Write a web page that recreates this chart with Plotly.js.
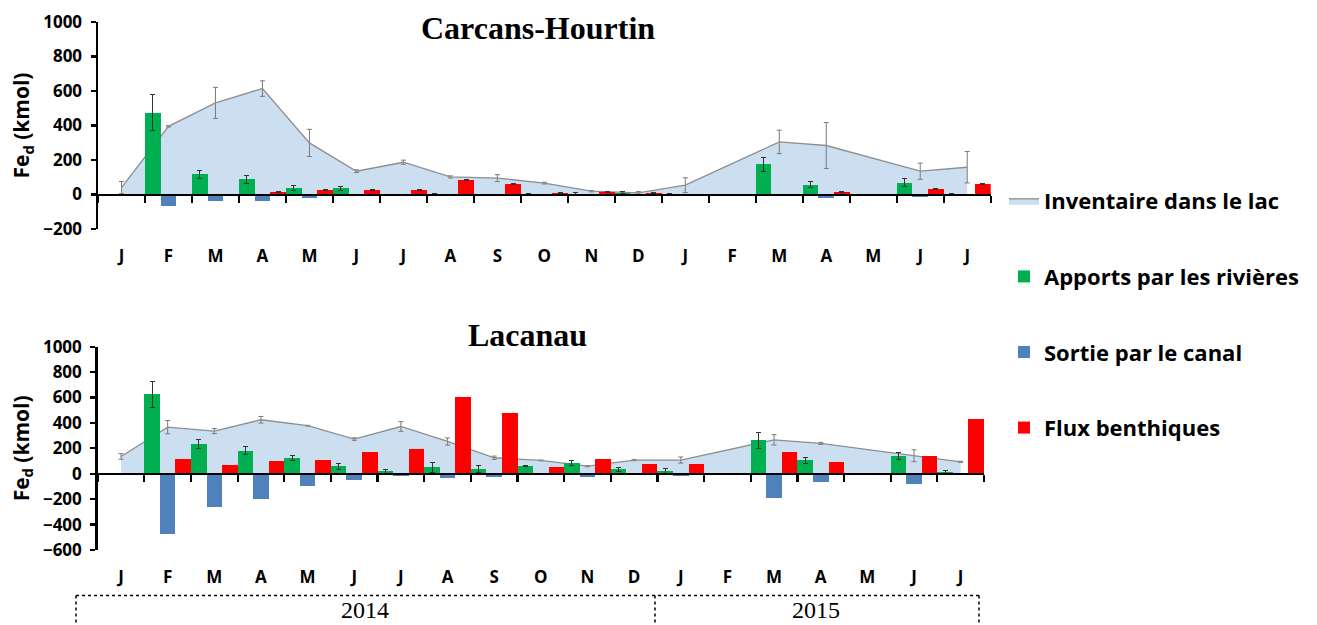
<!DOCTYPE html>
<html>
<head>
<meta charset="utf-8">
<script src="https://cdn.plot.ly/plotly-3.0.1.min.js"></script>
<style>
  html, body { margin: 0; padding: 0; background: #ffffff; }
  #chart { width: 1317px; height: 625px; }
</style>
</head>
<body>
<div id="chart"></div>
<script>
// ---------- data ----------
const months = ['J','F','M','A','M','J','J','A','S','O','N','D','J','F','M','A','M','J','J'];
const years = ['2014', '2015'];
const seriesNames = ['Inventaire dans le lac', 'Apports par les rivières', 'Sortie par le canal', 'Flux benthiques'];
const panelTitles = ['Carcans-Hourtin', 'Lacanau'];

// Carcans-Hourtin
const invC      = [40, 395, 531, 614, 299, 135, 187, 102, 95, 66, 19, 10, 54, null, 305, 284, null, 135, 158];
const invCErr   = [35, 4, 90, 45, 79, 8, 12, 6, 20, 5, 4, 7, 43, null, 68, 133, null, 47, 91];
const greenC    = [null, 475, 116, 87, 40, 35, null, 1, null, 1, 4, 10, 3, null, 174, 56, null, 69, 3];
const greenCErr = [null, 104, 26, 22, 15, 12, null, 3, null, 3, 5, 5, 4, null, 41, 17, null, 23, 4];
const blueC     = [null, -65, -39, -39, -19, null, null, null, null, null, null, null, null, null, null, -19, null, -13, null];
const redC      = [null, null, null, 15, 25, 27, 25, 83, 62, 10, 13, 10, null, null, null, 15, null, 31, 62];
const redCErr   = [null, null, null, 2, 2, 2, 2, 3, 3, 3, 3, 3, null, null, null, 2, null, 2, 2];

// Lacanau
const invL      = [136, 367, 336, 425, 378, 273, 372, 254, 126, 105, 60, 108, 108, null, 267, 239, null, 142, 94];
const invLErr   = [22, 52, 20, 26, 3, 10, 38, 28, 13, 3, 5, 5, 24, null, 41, 8, null, 47, 5];
const greenL    = [null, 624, 233, 181, 126, 58, 18, 50, 39, 63, 84, 34, 21, null, 262, 105, null, 139, 13];
const greenLErr = [null, 100, 36, 30, 20, 22, 15, 37, 30, 5, 21, 13, 17, null, 63, 25, null, 26, 13];
const blueL     = [null, -472, -262, -202, -100, -52, -15, -37, -26, -10, -26, null, -21, null, -189, -63, null, -79, null];
const redL      = [null, 118, 68, 100, 110, 170, 197, 608, 477, 50, 118, 76, 76, null, 173, 94, null, 136, 428];

// ---------- helpers ----------
const idx = months.map((m, i) => i);
const bounds = idx.map(i => i - 0.5).concat([months.length - 0.5]);
const W = 1317, H = 625;
const px = v => v / W;
const py = v => 1 - v / H;

const FONT = '"Open Sans", Lato, sans-serif';
const SERIF = '"Liberation Serif", "Times New Roman", serif';
const cols = { area: '#CCDFF1', areaLine: '#8E8E8E', green: '#00B050', blue: '#4F81BD', red: '#FF0000' };

function panelTraces(inv, invErr, green, greenErr, blue, red, redErr, xa, ya, xb, yb, legend) {
  const errBar = arr => arr ? { type: 'data', array: arr, visible: true, color: '#333333', thickness: 1, width: 2.5 } : undefined;
  return [
    { type: 'scatter', mode: 'lines', x: idx, y: inv, xaxis: xa, yaxis: ya,
      fill: 'tozeroy', fillcolor: cols.area, connectgaps: true,
      line: { color: cols.areaLine, width: 1.3 },
      error_y: { type: 'data', array: invErr, visible: true, color: '#7A7A7A', thickness: 1, width: 2.5 },
      name: seriesNames[0], legendgroup: 'a', showlegend: legend, hoverinfo: 'y' },
    { type: 'bar', x: idx, y: green, xaxis: xb, yaxis: yb, marker: { color: cols.green },
      error_y: errBar(greenErr), name: seriesNames[1], legendgroup: 'b', showlegend: legend },
    { type: 'bar', x: idx, y: blue, xaxis: xb, yaxis: yb, marker: { color: cols.blue },
      name: seriesNames[2], legendgroup: 'c', showlegend: legend },
    { type: 'bar', x: idx, y: red, xaxis: xb, yaxis: yb, marker: { color: cols.red },
      error_y: errBar(redErr), name: seriesNames[3], legendgroup: 'd', showlegend: legend }
  ];
}

const data = []
  .concat(panelTraces(invC, invCErr, greenC, greenCErr, blueC, redC, redCErr, 'x', 'y', 'x3', 'y3', true))
  .concat(panelTraces(invL, invLErr, greenL, greenLErr, blueL, redL, null, 'x2', 'y2', 'x4', 'y4', false));

// geometry (pixels of the reference)
const pTop = { y0: 22, y1: 229, x0: 98, x1: 990.7, r: [-200, 1000] };
const pBot = { y0: 346.7, y1: 550, x0: 97.7, x1: 984, r: [-600, 1000] };
const zeroPos = p => py(p.y1 - (0 - p.r[0]) / (p.r[1] - p.r[0]) * (p.y1 - p.y0));

const tickFont = { family: FONT, size: 17, color: '#000', weight: 'bold' };

function labelAxis(p, anchor) {
  return { domain: [px(p.x0), px(p.x1)], range: [-0.5, months.length - 0.5], anchor: anchor,
    tickmode: 'array', tickvals: idx, ticktext: months, ticks: '', showline: false,
    showgrid: false, zeroline: false, tickfont: tickFont, ticklabelstandoff: 15, fixedrange: true };
}
function tickAxis(p, over) {
  return { domain: [px(p.x0), px(p.x1)], range: [-0.5, months.length - 0.5], overlaying: over,
    anchor: 'free', position: zeroPos(p), tickmode: 'array', tickvals: bounds, ticks: 'outside',
    ticklen: 7, tickwidth: 2.2, tickcolor: '#000', showticklabels: false, showline: true,
    linecolor: '#000', linewidth: 2.5, showgrid: false, zeroline: false, fixedrange: true };
}
function valueAxis(p, anchor) {
  return { domain: [py(p.y1), py(p.y0)], range: p.r, anchor: anchor, tick0: 0, dtick: 200,
    ticks: 'outside', ticklen: 5, tickwidth: 2.2, tickcolor: '#000', showline: true,
    linecolor: '#000', linewidth: 2.5, showgrid: false, zeroline: false, tickfont: tickFont,
    ticklabelstandoff: 5, fixedrange: true,
    title: { text: 'Fe<sub>d</sub> (kmol)', font: { family: FONT, size: 21, color: '#000', weight: 'bold' }, standoff: 8 } };
}
function hiddenAxis(p, over, anchor) {
  return { domain: [py(p.y1), py(p.y0)], range: p.r, overlaying: over, anchor: anchor,
    visible: false, showgrid: false, zeroline: false, fixedrange: true };
}

const dotLine = { color: '#000', width: 1.5, dash: 'dot' };
const boxTop = 595.5, boxL = 76, boxM = 655, boxR = 979;

const layout = {
  width: W, height: H,
  margin: { l: 0, r: 0, t: 0, b: 0, pad: 0 },
  paper_bgcolor: '#ffffff', plot_bgcolor: 'rgba(0,0,0,0)',
  barmode: 'group', bargap: 0, bargroupgap: 0,
  showlegend: true,
  legend: { x: px(1004), xanchor: 'left', y: py(180), yanchor: 'top', traceorder: 'grouped',
    tracegroupgap: 44, font: { family: FONT, size: 22, color: '#000', weight: 'bold' },
    bgcolor: 'rgba(0,0,0,0)', borderwidth: 0 },
  xaxis: labelAxis(pTop, 'y'),
  yaxis: valueAxis(pTop, 'x'),
  xaxis3: tickAxis(pTop, 'x'),
  yaxis3: hiddenAxis(pTop, 'y', 'x3'),
  xaxis2: labelAxis(pBot, 'y2'),
  yaxis2: valueAxis(pBot, 'x2'),
  xaxis4: tickAxis(pBot, 'x2'),
  yaxis4: hiddenAxis(pBot, 'y2', 'x4'),
  annotations: [
    { text: panelTitles[0], x: px(538), y: py(28.5), xref: 'paper', yref: 'paper', xanchor: 'center', yanchor: 'middle',
      showarrow: false, font: { family: SERIF, size: 32, color: '#000', weight: 'bold' } },
    { text: panelTitles[1], x: px(527.5), y: py(334.5), xref: 'paper', yref: 'paper', xanchor: 'center', yanchor: 'middle',
      showarrow: false, font: { family: SERIF, size: 32, color: '#000', weight: 'bold' } },
    { text: years[0], x: px(364.5), y: py(610), xref: 'paper', yref: 'paper', xanchor: 'center', yanchor: 'middle',
      showarrow: false, font: { family: SERIF, size: 24, color: '#000' } },
    { text: years[1], x: px(816), y: py(610), xref: 'paper', yref: 'paper', xanchor: 'center', yanchor: 'middle',
      showarrow: false, font: { family: SERIF, size: 24, color: '#000' } }
  ],
  shapes: [
    { type: 'line', xref: 'paper', yref: 'paper', x0: px(boxL), x1: px(boxR), y0: py(boxTop), y1: py(boxTop), line: dotLine },
    { type: 'line', xref: 'paper', yref: 'paper', x0: px(boxL), x1: px(boxL), y0: py(boxTop), y1: py(640), line: dotLine },
    { type: 'line', xref: 'paper', yref: 'paper', x0: px(boxM), x1: px(boxM), y0: py(boxTop), y1: py(640), line: dotLine },
    { type: 'line', xref: 'paper', yref: 'paper', x0: px(boxR), x1: px(boxR), y0: py(boxTop), y1: py(640), line: dotLine }
  ]
};

Plotly.newPlot('chart', data, layout, { displayModeBar: false, staticPlot: true });
</script>
</body>
</html>
